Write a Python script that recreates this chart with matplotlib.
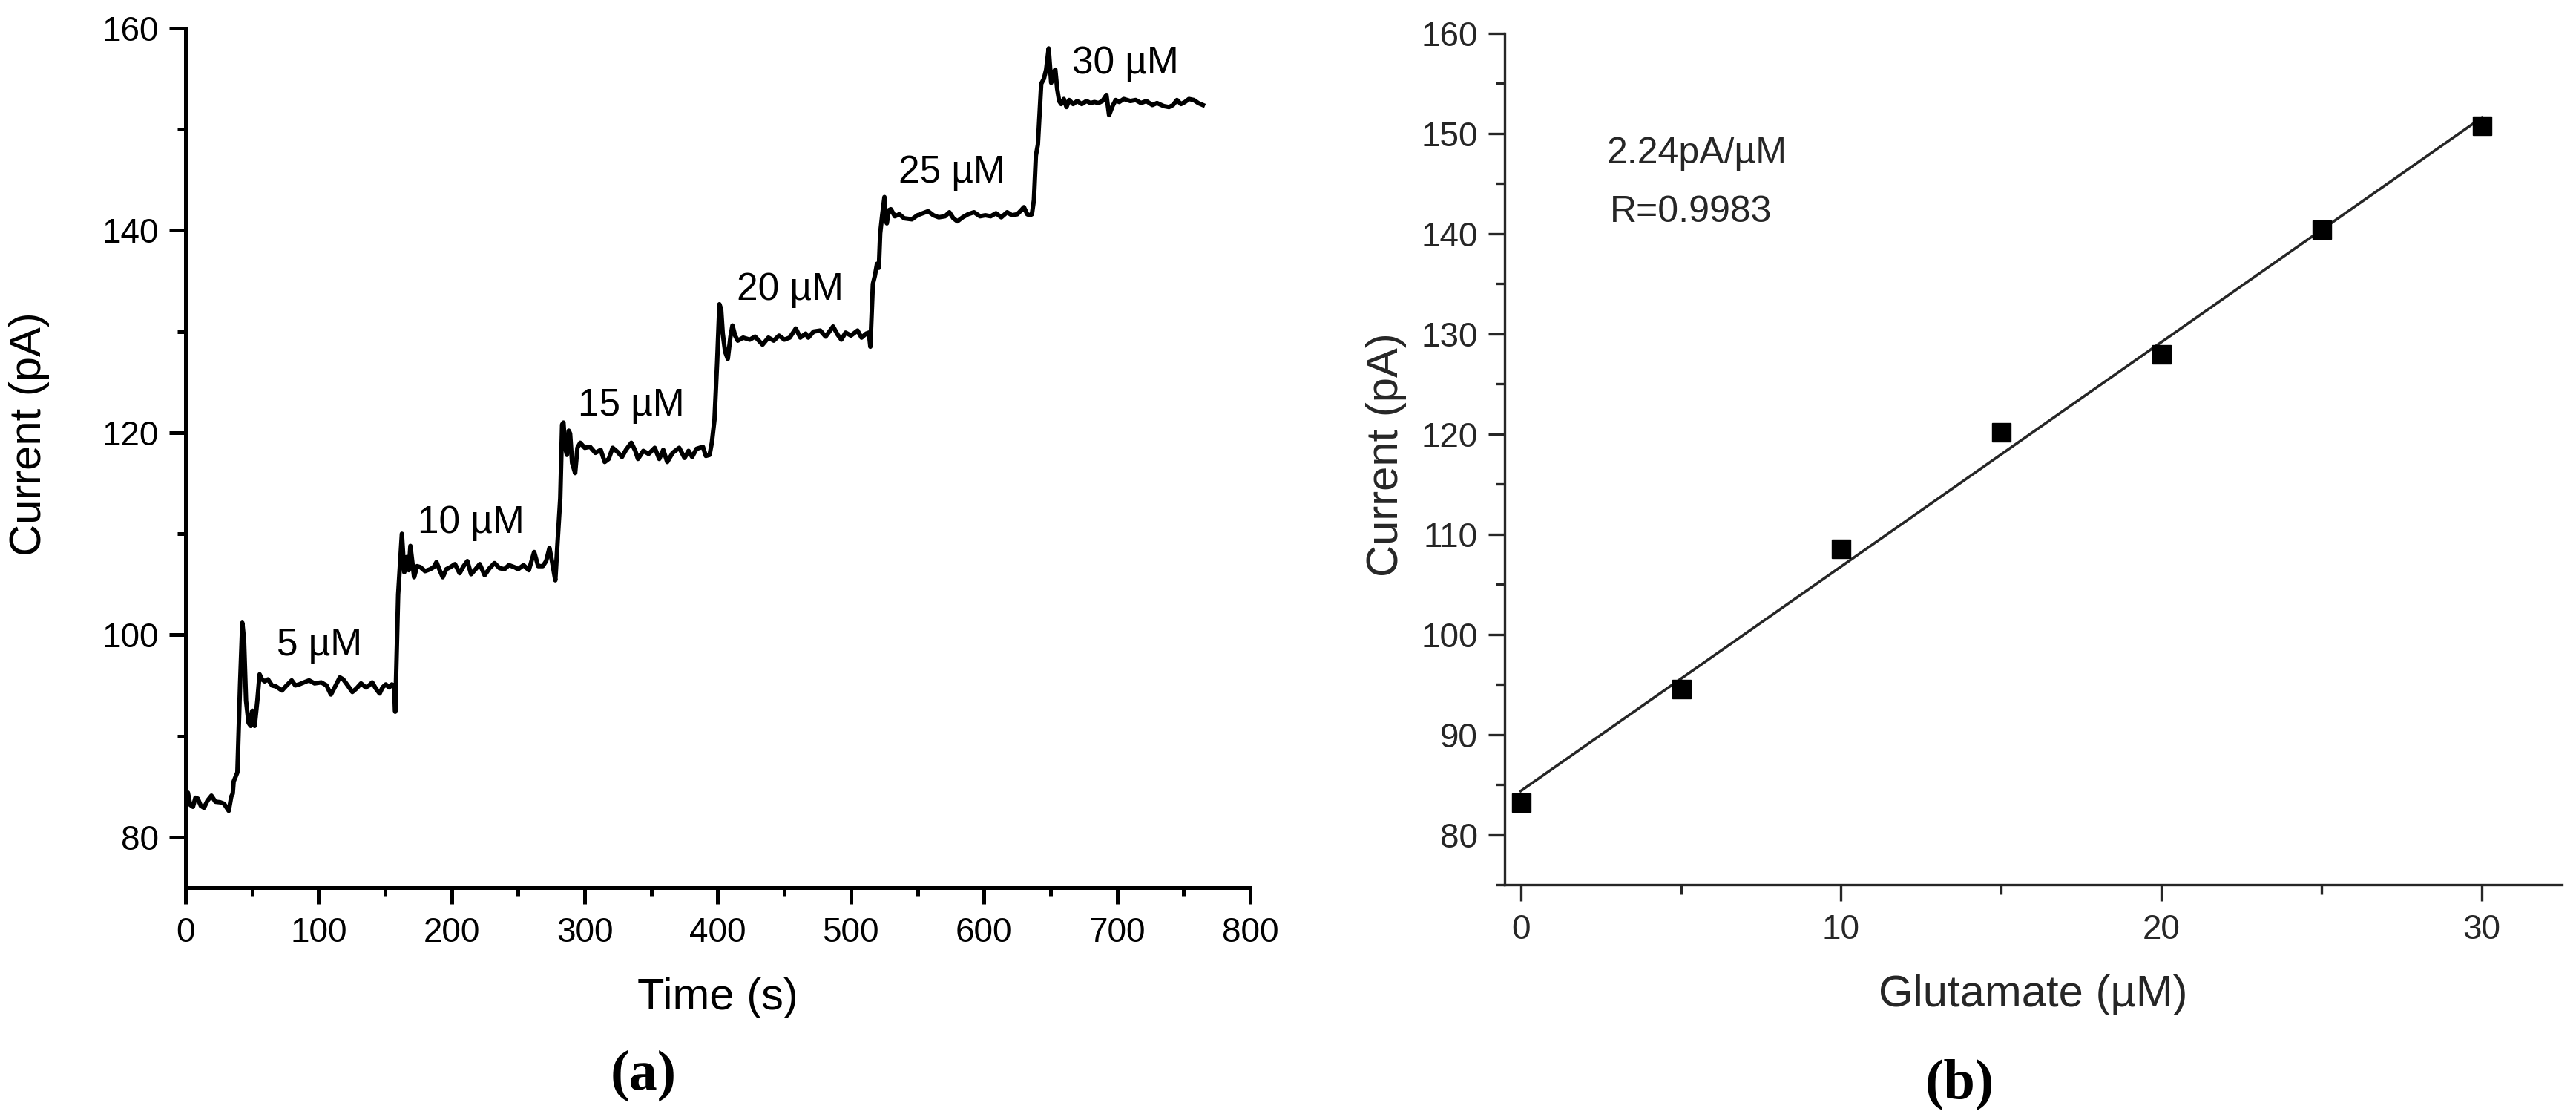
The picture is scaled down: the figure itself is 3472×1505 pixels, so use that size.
import numpy as np
import matplotlib
matplotlib.use('Agg')
import matplotlib.pyplot as plt
from matplotlib.ticker import MultipleLocator

plt.rcParams['font.family'] = ['Liberation Sans', 'DejaVu Sans']

# panel (a): amperometric trace
time_s = [0, 1.8, 3.5, 5.6, 7.5, 9.3, 11.5, 13.9, 16.5, 19.5, 22.5, 26.0, 29.0, 32.5, 34.4, 35.5,
          36.2, 39.0, 41.0, 42.7, 44.0, 45.5, 47.4, 49.0, 50.2, 52.0, 54.0, 55.7, 57.5, 59.5,
          62.0, 65.0, 68.0, 72.5, 76.0, 79.8, 82.5, 85.4, 89.0, 92.9, 97.0, 102.0, 106.0, 109.3,
          112.5, 116.0, 118.5, 120.8, 123.0, 125.4, 128.5, 131.9, 135.5, 138.0, 140.3, 143.0,
          145.9, 148.0, 150.5, 153.0, 155.1, 156.5, 157.6, 159.8, 162.6, 164.4, 166.3, 167.8,
          169.0, 171.8, 174.0, 176.5, 180.0, 184.0, 186.5, 188.6, 191.0, 193.3, 196.0, 199.0,
          202.5, 206.0, 209.0, 211.8, 214.6, 218.0, 221.1, 224.8, 228.5, 232.2, 236.0, 239.7,
          243.0, 247.1, 250.0, 254.0, 258.0, 262.0, 265.0, 268.5, 271.0, 273.5, 275.5, 277.9,
          279.5, 281.6, 283.0, 284.0, 285.3, 286.6, 288.0, 289.0, 290.5, 292.8, 294.5, 296.6,
          300.0, 304.0, 308.0, 312.0, 315.0, 318.0, 321.0, 324.6, 328.0, 331.0, 335.0, 338.0,
          340.0, 344.0, 348.0, 352.6, 356.0, 359.0, 362.0, 366.0, 371.0, 375.0, 378.0, 380.7,
          384.0, 388.8, 391.0, 393.8, 395.5, 397.5, 399.5, 401.2, 402.5, 403.7, 405.5, 407.5,
          409.5, 411.0, 413.0, 415.0, 419.0, 424.0, 428.0, 433.6, 438.0, 442.0, 446.0, 450.0,
          454.0, 458.6, 462.0, 466.0, 468.0, 472.0, 477.0, 481.0, 486.6, 490.0, 492.8, 496.0,
          500.0, 505.0, 508.0, 511.5, 513.5, 514.6, 516.5, 518.0, 519.6, 521.0, 522.0, 523.5,
          525.2, 526.0, 527.0, 528.5, 530.0, 533.0, 536.4, 540.0, 545.8, 550.0, 554.0, 558.0,
          562.0, 566.0, 570.7, 574.0, 577.0, 580.0, 584.0, 588.0, 592.5, 597.0, 601.0, 605.0,
          609.0, 613.0, 617.4, 621.0, 625.0, 628.0, 630.0, 632.5, 634.5, 636.0, 637.5, 639.0,
          640.5, 643.0, 645.0, 646.7, 648.6, 650.5, 651.5, 653.6, 655.0, 656.5, 658.0, 660.0,
          662.0, 664.0, 667.0, 670.0, 673.5, 677.0, 680.0, 683.0, 686.0, 689.0, 692.0, 694.0,
          696.6, 699.0, 701.6, 705.0, 710.0, 714.0, 718.0, 722.0, 726.5, 730.0, 735.0, 739.0,
          742.0, 745.0, 748.0, 751.0, 754.0, 757.6, 761.0, 764.5]
current_pa = [84.3, 84.4, 83.2, 83.0, 83.9, 83.8, 83.1, 82.9, 83.6, 84.1, 83.5, 83.45, 83.3, 82.6, 84.0, 84.3,
              85.5, 86.4, 95.0, 101.2, 99.5, 93.5, 91.3, 91.0, 92.5, 91.0, 93.5, 96.1, 95.6, 95.4,
              95.6, 95.0, 94.9, 94.5, 95.0, 95.5, 95.0, 95.1, 95.3, 95.5, 95.2, 95.3, 95.0, 94.1,
              94.9, 95.8, 95.6, 95.2, 94.8, 94.35, 94.7, 95.2, 94.8, 95.0, 95.3, 94.7,
              94.2, 94.8, 95.1, 94.8, 95.1, 94.9, 92.4, 104.0, 110.0, 106.2, 107.7, 106.4,
              108.8, 105.7, 106.8, 106.7, 106.3, 106.5, 106.7, 107.2, 106.4, 105.7, 106.5, 106.7,
              107.0, 106.1, 106.8, 107.3, 106.0, 106.5, 107.0, 105.9, 106.6, 107.1, 106.6, 106.5,
              106.9, 106.7, 106.5, 106.9, 106.4, 108.2, 106.8, 106.8, 107.3, 108.6, 107.2, 105.4,
              109.0, 113.5, 120.8, 121.0, 118.5, 117.8, 120.2, 119.9, 117.0, 116.0, 118.5, 119.0,
              118.5, 118.6, 118.0, 118.3, 117.1, 117.4, 118.5, 118.1, 117.6, 118.3, 119.0, 118.2,
              117.4, 118.2, 117.9, 118.5, 117.4, 118.3, 117.1, 118.0, 118.5, 117.5, 118.2, 117.6,
              118.4, 118.6, 117.7, 117.8, 119.0, 121.3, 127.0, 132.7, 132.2, 129.8, 128.0, 127.3,
              129.5, 130.6, 129.6, 129.1, 129.4, 129.2, 129.5, 128.7, 129.4, 129.1, 129.6, 129.2,
              129.4, 130.3, 129.4, 129.8, 129.4, 130.0, 130.1, 129.5, 130.5, 129.7, 129.2, 129.9,
              129.6, 130.1, 129.4, 129.8, 129.9, 128.5, 134.7, 135.5, 136.7, 136.3, 139.7, 141.5,
              143.3, 141.0, 140.7, 142.0, 142.1, 141.4, 141.6, 141.2, 141.1, 141.5, 141.7, 141.9,
              141.5, 141.3, 141.4, 141.8, 141.2, 140.9, 141.3, 141.6, 141.8, 141.4, 141.5, 141.4,
              141.7, 141.3, 141.8, 141.5, 141.6, 142.0, 142.3, 141.6, 141.5, 141.6, 143.0, 147.4,
              148.5, 154.5, 155.0, 155.9, 158.0, 154.6, 155.5, 155.9, 154.0, 152.8, 152.5, 153.0,
              152.2, 152.9, 152.5, 152.8, 152.5, 152.8, 152.6, 152.7, 152.6, 152.8, 153.4, 151.4,
              152.3, 152.9, 152.7, 153.0, 152.8, 152.9, 152.6, 152.8, 152.4, 152.6, 152.3, 152.2,
              152.4, 152.9, 152.5, 152.7, 153.0, 152.9, 152.6, 152.4]

step_labels = ['5 µM', '10 µM', '15 µM', '20 µM', '25 µM', '30 µM']
step_label_t = [68.6, 174.5, 294.9, 414.2, 535.7, 666.1]
step_label_i = [98.0, 110.1, 121.7, 133.1, 144.7, 155.5]

# panel (b): calibration points
glu_um = [0, 5, 10, 15, 20, 25, 30]
glu_current = [83.2, 94.6, 108.6, 120.2, 128.0, 140.4, 150.8]
fit_text = ['2.24pA/µM', 'R=0.9983']

W, H = 3473, 1505
fig = plt.figure(figsize=(W / 100, H / 100), dpi=100)


def px_axes(x0, x1, ytop, ybot):
    return fig.add_axes([x0 / W, 1 - ybot / H, (x1 - x0) / W, (ybot - ytop) / H])


def style_axes(ax, lw, color, major_len, minor_len):
    for s in ['top', 'right']:
        ax.spines[s].set_visible(False)
    for s in ['left', 'bottom']:
        ax.spines[s].set_linewidth(lw)
        ax.spines[s].set_color(color)
    ax.tick_params(which='both', direction='out', width=lw, color=color, labelcolor=color)
    ax.tick_params(which='major', length=major_len, labelsize=33)
    ax.tick_params(which='minor', length=minor_len)
    ax.tick_params(axis='y', which='major', pad=10)
    ax.tick_params(axis='x', which='major', pad=12)


# ---- (a) ----
ax1 = px_axes(250, 1685, 38, 1196)
ax1.plot(time_s, current_pa, color='black', linewidth=4.3, solid_joinstyle='round')
ax1.set_xlim(0, 800)
ax1.set_ylim(75, 160)
ax1.xaxis.set_major_locator(MultipleLocator(100))
ax1.xaxis.set_minor_locator(MultipleLocator(50))
ax1.yaxis.set_major_locator(MultipleLocator(20))
ax1.yaxis.set_minor_locator(MultipleLocator(10))
style_axes(ax1, 3.6, 'black', 16, 8)
for lab, t, i in zip(step_labels, step_label_t, step_label_i):
    ax1.text(t, i, lab, fontsize=37, ha='left', va='baseline')

fig.text(40 / W, 1 - 585 / H, 'Current (pA)', rotation=90, fontsize=43, ha='center', va='center')
fig.text(967 / W, 1 - 1345 / H, 'Time (s)', fontsize=43, ha='center', va='center')
fig.text(867 / W, 1 - 1449 / H, '(a)', fontsize=55, ha='center', va='center',
         family='Liberation Serif', fontweight='bold')

# ---- (b) ----
gray = '#262626'
ax2 = px_axes(2028, 3453, 45, 1192)
slope, intercept = np.polyfit(glu_um, glu_current, 1)
xfit = np.array([glu_um[0], glu_um[-1]])
ax2.plot(xfit, slope * xfit + intercept, color=gray, linewidth=2.6)
ax2.plot(glu_um, glu_current, 's', color='black', markersize=18)
ax2.set_xlim(-0.5, 32.5)
ax2.set_ylim(75, 160)
ax2.xaxis.set_major_locator(MultipleLocator(10))
ax2.xaxis.set_minor_locator(MultipleLocator(5))
ax2.yaxis.set_major_locator(MultipleLocator(10))
ax2.yaxis.set_minor_locator(MultipleLocator(5))
style_axes(ax2, 2.4, gray, 16, 9)
ax2.text(0.22 / 1, 0, '')
fig.text(2165 / W, 1 - 220 / H, fit_text[0], fontsize=36, color=gray, ha='left', va='baseline')
fig.text(2170 / W, 1 - 299 / H, fit_text[1], fontsize=36, color=gray, ha='left', va='baseline')

fig.text(1869 / W, 1 - 613 / H, 'Current (pA)', rotation=90, fontsize=43, color=gray,
         ha='center', va='center')
fig.text(2740 / W, 1 - 1341 / H, 'Glutamate (µM)', fontsize=43, color=gray, ha='center', va='center')
fig.text(2641 / W, 1 - 1461 / H, '(b)', fontsize=55, ha='center', va='center',
         family='Liberation Serif', fontweight='bold')

fig.savefig('out.png', dpi=100, facecolor='white')
